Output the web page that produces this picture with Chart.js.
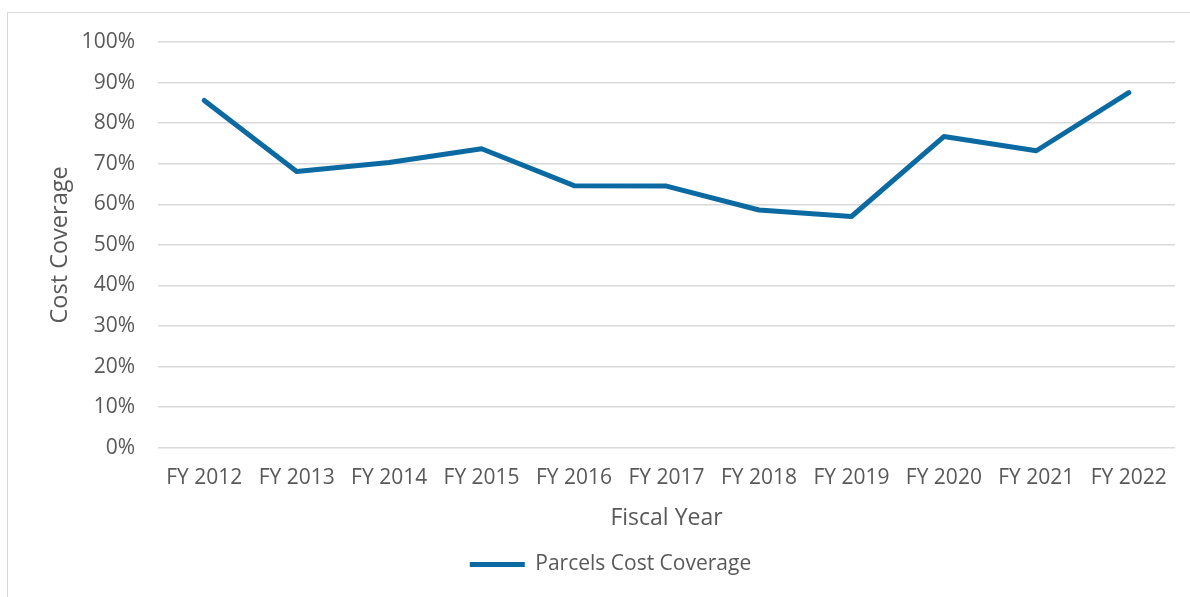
<!DOCTYPE html>
<html>
<head>
<meta charset="utf-8">
<script src="https://cdn.jsdelivr.net/npm/chart.js@4/dist/chart.umd.min.js"></script>
<style>
  html, body { margin: 0; padding: 0; background: #ffffff; overflow: hidden; }
  #frame { position: absolute; left: 7px; top: 12px; width: 1300px; height: 700px; border: 1px solid #d9d9d9; box-sizing: border-box; }
  #wrap { position: absolute; left: 0; top: 0; width: 1190px; height: 597px; }
</style>
</head>
<body>
<div id="frame"></div>
<div id="wrap"><canvas id="c" width="1190" height="597"></canvas></div>
<script>
const categories = ["FY 2012","FY 2013","FY 2014","FY 2015","FY 2016","FY 2017","FY 2018","FY 2019","FY 2020","FY 2021","FY 2022"];
const coverageValues = [0.856, 0.681, 0.703, 0.737, 0.646, 0.645, 0.586, 0.570, 0.767, 0.732, 0.875];
const seriesName = "Parcels Cost Coverage";
const yTitle = "Cost Coverage";
const xTitle = "Fiscal Year";

const textColor = '#595959';
const font = "'Open Sans', 'Noto Sans', sans-serif";

new Chart(document.getElementById('c'), {
  type: 'line',
  data: {
    labels: categories,
    datasets: [{
      label: seriesName,
      data: coverageValues,
      borderColor: '#0C6AA3',
      backgroundColor: '#0C6AA3',
      borderWidth: 5,
      borderCapStyle: 'round',
      borderJoinStyle: 'round',
      pointRadius: 0,
      pointHoverRadius: 0,
      tension: 0
    }]
  },
  options: {
    responsive: false,
    animation: false,
    devicePixelRatio: 1,
    layout: { padding: { left: 46, right: 15, top: 42, bottom: 12 } },
    plugins: {
      tooltip: { enabled: false },
      legend: {
        position: 'bottom',
        labels: {
          usePointStyle: true,
          pointStyle: 'line',
          pointStyleWidth: 55,
          boxHeight: 5,
          color: textColor,
          font: { family: font, size: 21 },
          padding: 10
        }
      }
    },
    scales: {
      x: {
        offset: true,
        grid: { display: false },
        border: { display: false },
        ticks: { color: textColor, font: { family: font, size: 21 }, padding: 9.8, maxRotation: 0, autoSkip: false },
        title: { display: true, text: xTitle, color: textColor, font: { family: font, size: 23 }, padding: { top: 0, bottom: 12 } },
        afterFit: s => { s.height = 96.2; }
      },
      y: {
        min: 0,
        max: 1,
        afterFit: s => { s.width = 112; },
        ticks: {
          stepSize: 0.1,
          color: textColor,
          font: { family: font, size: 21 },
          padding: 23,
          callback: v => Math.round(v * 100) + '%'
        },
        grid: { color: '#d9d9d9', lineWidth: 1.5, drawTicks: false },
        border: { display: false },
        title: { display: true, text: yTitle, color: textColor, font: { family: font, size: 23.5 }, padding: { top: 0, bottom: 0 } }
      }
    }
  }
});
</script>
</body>
</html>
